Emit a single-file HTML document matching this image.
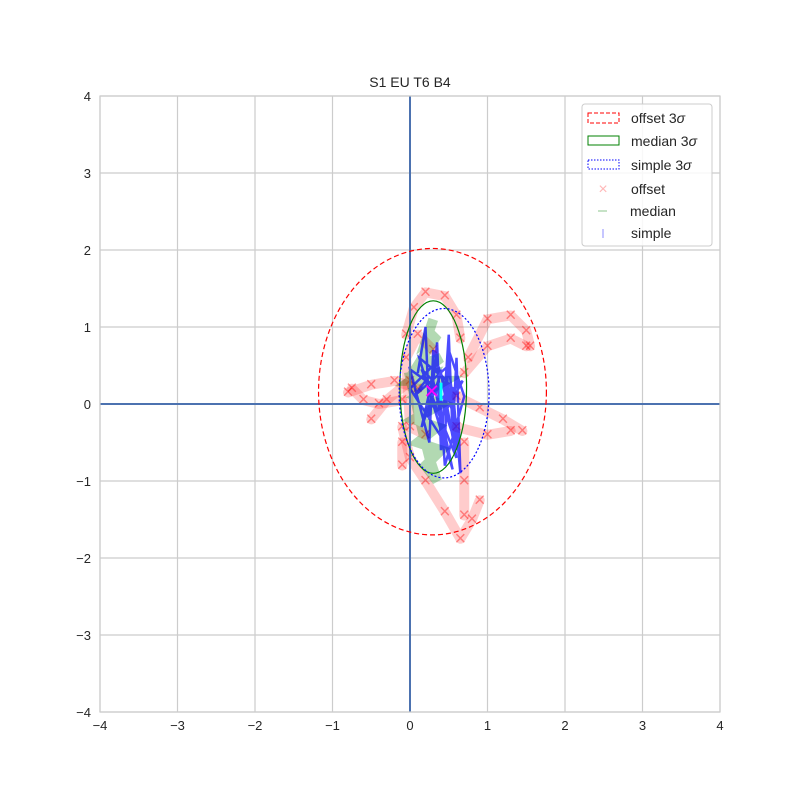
<!DOCTYPE html>
<html><head><meta charset="utf-8"><style>
body{margin:0;background:#fff;}
svg text{font-family:"Liberation Sans",sans-serif;fill:#262626;}
</style></head><body>
<svg id="chart" width="800" height="800" viewBox="0 0 800 800">
<rect width="800" height="800" fill="#fff"/>
<g id="grid"></g>
<g id="ticks"></g>
<g id="marks"></g>
<text x="410" y="87" text-anchor="middle" font-size="14">S1 EU T6 B4</text>
<g>
<rect x="582" y="104" width="130" height="142" rx="3" fill="#fff" fill-opacity="0.85" stroke="#ccc"/>
<rect x="588" y="113" width="31" height="10" fill="none" stroke="red" stroke-dasharray="4,2"/>
<text x="631" y="123" font-size="14">offset 3<tspan font-style="italic">σ</tspan></text>
<rect x="588" y="136" width="31" height="9" fill="none" stroke="green"/>
<text x="631" y="146" font-size="14">median 3<tspan font-style="italic">σ</tspan></text>
<rect x="588" y="160" width="31" height="9" fill="none" stroke="blue" stroke-dasharray="1.5,1.5"/>
<text x="631" y="170" font-size="14">simple 3<tspan font-style="italic">σ</tspan></text>
<text x="603" y="194" font-size="16" text-anchor="middle" style="fill:#f88;opacity:.6">×</text>
<text x="631" y="194" font-size="14">offset</text>
<line x1="598" y1="211" x2="607" y2="211" stroke="green" stroke-opacity="0.3" stroke-width="1.5"/>
<text x="630" y="216" font-size="14">median</text>
<line x1="603" y1="229" x2="603" y2="238" stroke="blue" stroke-opacity="0.3" stroke-width="1.5"/>
<text x="631" y="238" font-size="14">simple</text>
</g>
</svg>
<script>
const ticks=[-4,-3,-2,-1,0,1,2,3,4];
const offsetPaths=[
 [[-0.05,0.9],[0.05,1.25],[0.2,1.45],[0.45,1.4],[0.6,1.15],[0.65,0.85]],
 [[0.75,0.6],[1.0,1.1],[1.3,1.15],[1.5,0.95],[1.55,0.75]],
 [[0.7,0.4],[1.0,0.75],[1.3,0.85],[1.5,0.75]],
 [[0.6,0.1],[0.9,-0.05],[1.2,-0.2],[1.45,-0.35]],
 [[0.6,-0.3],[1.0,-0.4],[1.3,-0.35]],
 [[-0.8,0.15],[-0.5,0.25],[-0.2,0.3],[0.1,0.2]],
 [[-0.75,0.2],[-0.6,0.05],[-0.4,0.0],[-0.1,0.05]],
 [[-0.5,-0.2],[-0.3,0.05],[0.0,0.3]],
 [[-0.1,-0.3],[0.0,-0.7],[0.2,-1.0],[0.45,-1.4],[0.65,-1.75],[0.8,-1.5],[0.9,-1.25]],
 [[0.7,-0.5],[0.7,-1.0],[0.7,-1.45]],
 [[-0.1,-0.5],[-0.1,-0.8]],
 [[0.2,-0.4],[0.0,-0.3],[-0.05,0.6],[0.1,0.9],[0.3,0.7]]
];
const medianPath=[[0.3,1.1],[0.2,0.8],[0.35,0.9],[0.1,0.5],[0.4,0.6],[0.0,0.3],[0.45,0.3],[0.1,0.1],[0.4,0.0],[0.05,-0.2],[0.35,-0.3],[0.1,-0.5],[0.4,-0.6],[0.2,-0.8],[0.35,-1.0],[0.25,-0.7],[0.15,-0.3],[0.0,0.35],[0.3,0.4],[0.05,0.0]];
const simplePath=[[0.1,0.4],[0.2,1.0],[0.25,-0.2],[0.35,0.8],[0.4,-0.6],[0.5,0.9],[0.55,-0.4],[0.6,0.6],[0.65,-0.9],[0.55,0.2],[0.3,0.5],[0.0,0.2],[0.45,-0.5],[0.5,0.7],[0.7,0.1],[0.45,-0.8],[0.35,0.6],[0.15,-0.3],[0.4,0.4],[0.6,-0.7],[0.2,0.3],[0.05,0.1],[0.5,0.5],[0.58,-0.2],[0.3,0.7],[0.25,-0.5],[0.0,0.45],[0.35,0.2],[0.62,-0.6],[0.48,0.3],[0.12,0.6],[0.55,-0.85],[0.3,0.3],[0.15,0.45],[0.4,-0.2],[0.68,0.3],[0.2,-0.1]];
const ellipses=[
 {name:'offset-ellipse',c:[0.29,0.16],r:[1.47,1.86],color:'red',dash:'5,3'},
 {name:'median-ellipse',c:[0.3,0.22],r:[0.43,1.12],color:'green',dash:''},
 {name:'simple-ellipse',c:[0.44,0.14],r:[0.58,1.1],color:'blue',dash:'2,2'}
];
const means=[[0.28,0.16],[0.4,0.16]];
const X=v=>410+v*77.5, Y=v=>404-v*77;
const NS='http://www.w3.org/2000/svg';
function mk(tag,parent,attrs){const e=document.createElementNS(NS,tag);for(const k in attrs)e.setAttribute(k,attrs[k]);parent.appendChild(e);return e;}
const grid=document.getElementById('grid'),tk=document.getElementById('ticks'),marks=document.getElementById('marks');
ticks.forEach(t=>{
 let l=mk('line',grid,{x1:X(t),x2:X(t),y1:96,y2:712,stroke:'#ccc','stroke-width':1.2});
 
 
 l=mk('line',grid,{x1:100,x2:720,y1:Y(t),y2:Y(t),stroke:'#ccc','stroke-width':1.2});
 
 
 const lab=(t<0?'\u2212'+(-t):''+t);
 let tx=mk('text',tk,{x:X(t),y:730,'text-anchor':'middle','font-size':13});tx.textContent=lab;
 
 
 tx=mk('text',tk,{x:91,y:Y(t)+5,'text-anchor':'end','font-size':13});tx.textContent=lab;
 
 
});
const ptsStr=p=>p.map(q=>X(q[0])+','+Y(q[1])).join(' ');
offsetPaths.forEach(p=>{
 const pl=mk('polyline',marks,{points:ptsStr(p),fill:'none',stroke:'red','stroke-opacity':0.2,'stroke-width':10,'stroke-linejoin':'round','stroke-linecap':'round'});
 
 
 p.forEach(q=>{const t=mk('text',marks,{x:X(q[0]),y:Y(q[1])+6,'text-anchor':'middle','font-size':20,style:'fill:red;opacity:0.4'});t.textContent='×';
  
  });
});
let mp=mk('polyline',marks,{points:ptsStr(medianPath),fill:'none',stroke:'green','stroke-opacity':0.3,'stroke-width':10});


let sp=mk('polyline',marks,{points:ptsStr(simplePath),fill:'none',stroke:'blue','stroke-opacity':0.7,'stroke-width':2.5});


let ax=mk('line',marks,{x1:100,x2:720,y1:Y(0),y2:Y(0),stroke:'#4c72b0','stroke-width':2});


ax=mk('line',marks,{x1:X(0),x2:X(0),y1:96,y2:712,stroke:'#4c72b0','stroke-width':2});


ellipses.forEach(e=>{
 const el=mk('ellipse',marks,{cx:X(e.c[0]),cy:Y(e.c[1]),rx:e.r[0]*77.5,ry:e.r[1]*77,fill:'none',stroke:e.color,'stroke-width':1.2,'stroke-dasharray':e.dash});
 
 
});
let m=mk('text',marks,{x:X(means[0][0]),y:Y(means[0][1])+8,'text-anchor':'middle','font-size':26,style:'fill:magenta'});m.textContent='×';


m=mk('line',marks,{x1:X(means[1][0]),x2:X(means[1][0]),y1:Y(means[1][1])-9,y2:Y(means[1][1])+9,stroke:'cyan','stroke-width':3});


mk('rect',marks,{x:100,y:96,width:620,height:616,fill:'none',stroke:'#ccc','stroke-width':1.2});
</script>
</body></html>
